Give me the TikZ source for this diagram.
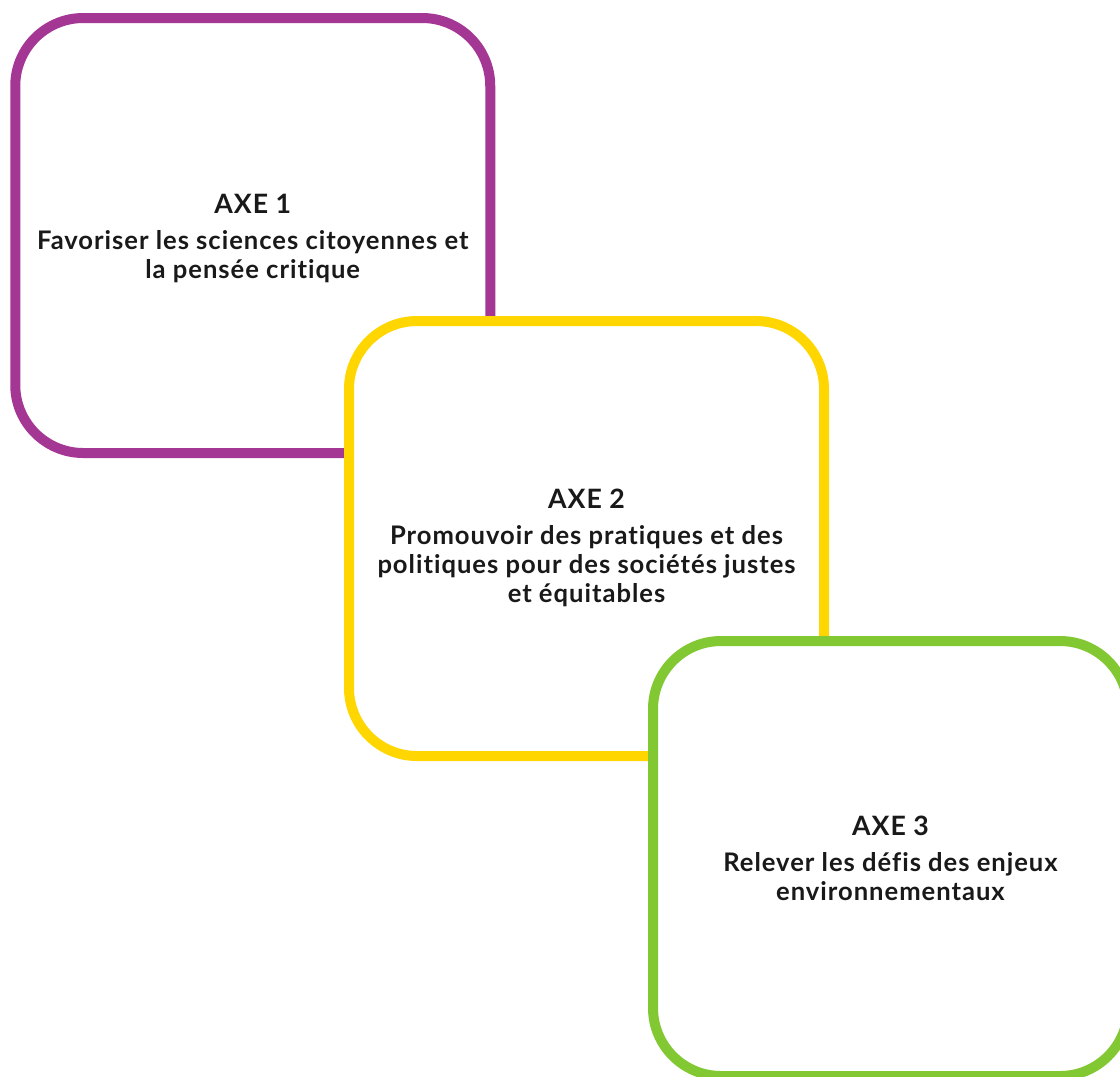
\documentclass[tikz,border=0pt]{standalone}
\usepackage{fontspec}
\setmainfont{Lato}[Ligatures=NoCommon, LetterSpace=3.8]
\usepackage{tikz}

\definecolor{axepurple}{RGB}{165,55,148}
\definecolor{axeyellow}{RGB}{255,214,0}
\definecolor{axegreen}{RGB}{130,200,50}
\definecolor{axetext}{RGB}{25,25,25}

\begin{document}
\begin{tikzpicture}[x=0.75pt, y=-0.75pt,
    axebox/.style={draw, fill=white, line width=7.5pt, rounded corners=51pt,
        minimum width=356.25pt, minimum height=326.25pt, inner sep=0pt},
    axetitle/.style={text=axetext, align=center, font=\bfseries\fontsize{19.2}{22}\selectfont}]
    \useasboundingbox (0,0) rectangle (1120,1076);

    % Axe 1 (purple), drawn first so the others cover it
    \node[axebox, draw=axepurple] (axe1) at (252.75,235.5) {};
    \node[axetitle] (axe1text) at ([yshift=-2pt]axe1.center)
        {{\fontsize{20}{22}\selectfont AXE 1}\\[5pt]
         Favoriser les sciences citoyennes et\\la pensée critique};

    % Axe 2 (yellow)
    \node[axebox, draw=axeyellow] (axe2) at (586.5,538.5) {};
    \node[axetitle] (axe2text) at ([yshift=-7pt]axe2.center)
        {{\fontsize{20}{22}\selectfont AXE 2}\\[5pt]
         Promouvoir des pratiques et des\\politiques pour des sociétés justes\\et équitables};

    % Axe 3 (green), partly off the page
    \node[axebox, draw=axegreen] (axe3) at (890.5,858.5) {};
    \node[axetitle] (axe3text) at ([yshift=0pt]axe3.center)
        {{\fontsize{20}{22}\selectfont AXE 3}\\[5pt]
         Relever les défis des enjeux\\environnementaux};
\end{tikzpicture}
\end{document}
